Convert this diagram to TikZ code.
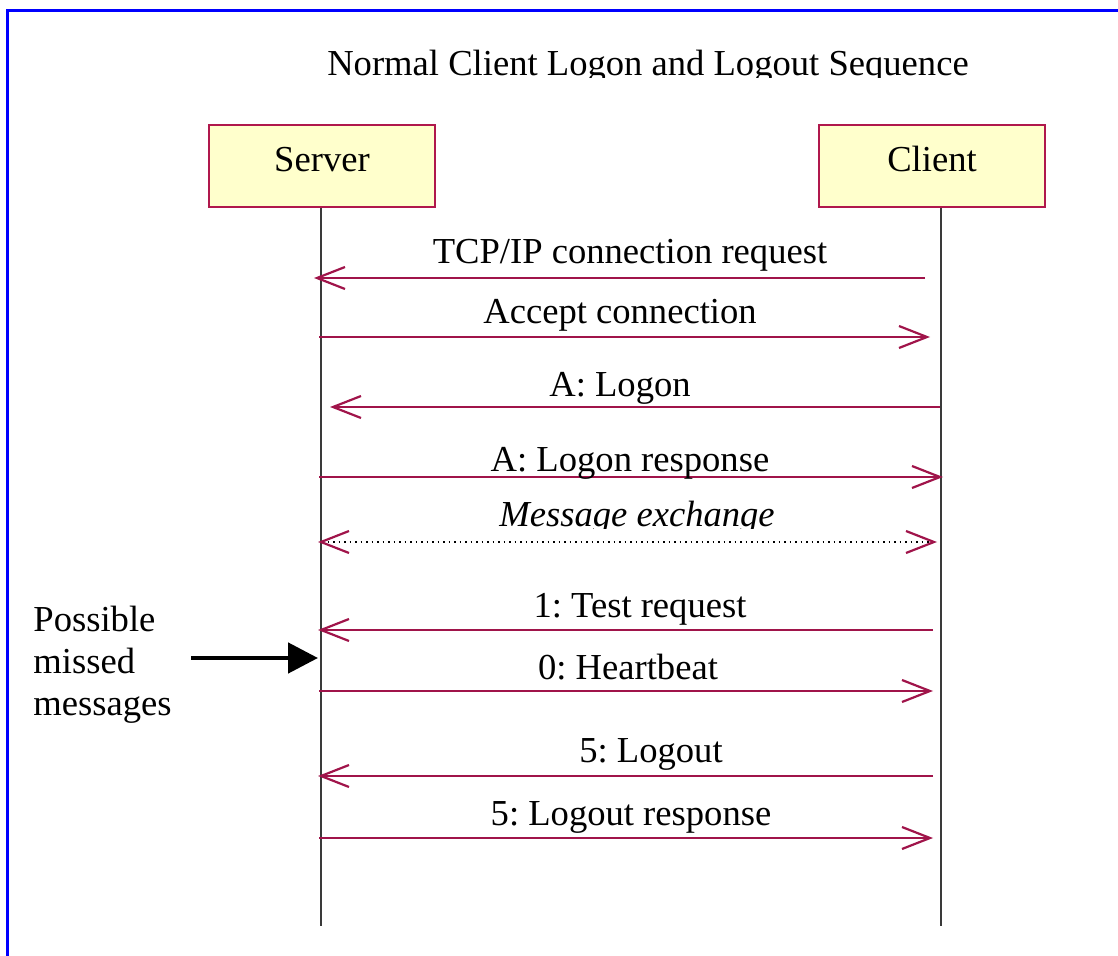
\documentclass[tikz,border=0pt]{standalone}
\usepackage{fontspec}
\setmainfont{Liberation Serif}
\usetikzlibrary{arrows.meta}
\definecolor{msg}{HTML}{A0144A}
\definecolor{boxline}{HTML}{B0184C}
\definecolor{boxfill}{HTML}{FFFFCC}
\definecolor{life}{HTML}{3A3A3A}
\frenchspacing
\begin{document}
\begin{tikzpicture}[x=0.5pt,y=-0.5pt,
  txt/.style={font=\fontsize{18.3}{21}\selectfont, inner sep=0pt},
  lbl/.style={txt, anchor=base},
  actor/.style={draw=boxline, line width=0.7pt, fill=boxfill, minimum width=113pt, minimum height=41pt, inner sep=0pt},
  lifeline/.style={draw=life, line width=0.6pt},
  msgarrow/.style={draw=msg, line width=0.55pt, -{Straight Barb[length=14pt,width=11pt,line width=1.1pt]}},
  dotarrow/.style={draw=black, line width=0.75pt, dotted, {Straight Barb[length=14pt,width=11pt,line width=1.1pt,color=msg]}-{Straight Barb[length=14pt,width=11pt,line width=1.1pt,color=msg]}},
  bigarrow/.style={draw=black, line width=2.4pt, -{Triangle[length=15pt,width=15pt]}},
  frame/.style={draw=blue, line width=1.5pt}
]
\useasboundingbox (0,0) rectangle (1118,956);
% frame (top and left edges only)
\coordinate (fa) at (7,956);
\coordinate (fb) at (7,11);
\coordinate (fc) at (1118,11);
\draw[frame] (fa) -- (fb) -- (fc);
% title (clipped at bottom as in reference)
\begin{scope}
\clip (0,0) rectangle (1118,78);
\node[lbl] (title) at (648,76) {Normal Client Logon and Logout Sequence};
\end{scope}
% actors
\node[actor] (server) at (322,166) {};
\node[lbl] (servertxt) at (322,172) {Server};
\node[actor] (client) at (932,166) {};
\node[lbl] (clienttxt) at (932,172) {Client};
% lifelines
\coordinate (serverEnd) at (321,926);
\coordinate (clientEnd) at (941,926);
\draw[lifeline] (server.south -| serverEnd) -- (serverEnd);
\draw[lifeline] (client.south -| clientEnd) -- (clientEnd);
% message endpoints
\coordinate (c1) at (925,278); \coordinate (s1) at (314,278);
\coordinate (s2) at (319,337); \coordinate (c2) at (930,337);
\coordinate (c3) at (940,407); \coordinate (s3) at (330,407);
\coordinate (s4) at (319,477); \coordinate (c4) at (943,477);
\coordinate (s5) at (318,542); \coordinate (c5) at (937,542);
\coordinate (c6) at (933,630); \coordinate (s6) at (318,630);
\coordinate (s7) at (319,691); \coordinate (c7) at (933,691);
\coordinate (c8) at (933,776); \coordinate (s8) at (318,776);
\coordinate (s9) at (319,838); \coordinate (c9) at (933,838);
% messages
\draw[msgarrow] (c1) -- (s1);
\node[lbl] (m1) at (630,264) {TCP/IP connection request};
\draw[msgarrow] (s2) -- (c2);
\node[lbl] (m2) at (620,324) {Accept connection};
\draw[msgarrow] (c3) -- (s3);
\node[lbl] (m3) at (620,397) {A: Logon};
\draw[msgarrow] (s4) -- (c4);
\node[lbl] (m4) at (630,472) {A: Logon response};
\draw[dotarrow] (s5) -- (c5);
\begin{scope}
\clip (300,480) rectangle (960,528);
\node[lbl, font=\fontsize{18.3}{21}\selectfont\itshape] (m5) at (637,526) {Message exchange};
\end{scope}
\draw[msgarrow] (c6) -- (s6);
\node[lbl] (m6) at (640,617) {1: Test request};
\draw[msgarrow] (s7) -- (c7);
\node[lbl] (m7) at (628,679) {0: Heartbeat};
\draw[msgarrow] (c8) -- (s8);
\node[lbl] (m8) at (651,762) {5: Logout};
\draw[msgarrow] (s9) -- (c9);
\node[lbl] (m9) at (631,825) {5: Logout response};
% missed messages note
\node[txt, anchor=north west, align=left] (note) at (33,606) {Possible\\missed\\messages};
\coordinate (bigStart) at (191,658);
\coordinate (bigEnd) at (318,658);
\draw[bigarrow] (bigStart) -- (bigEnd);
\end{tikzpicture}
\end{document}
